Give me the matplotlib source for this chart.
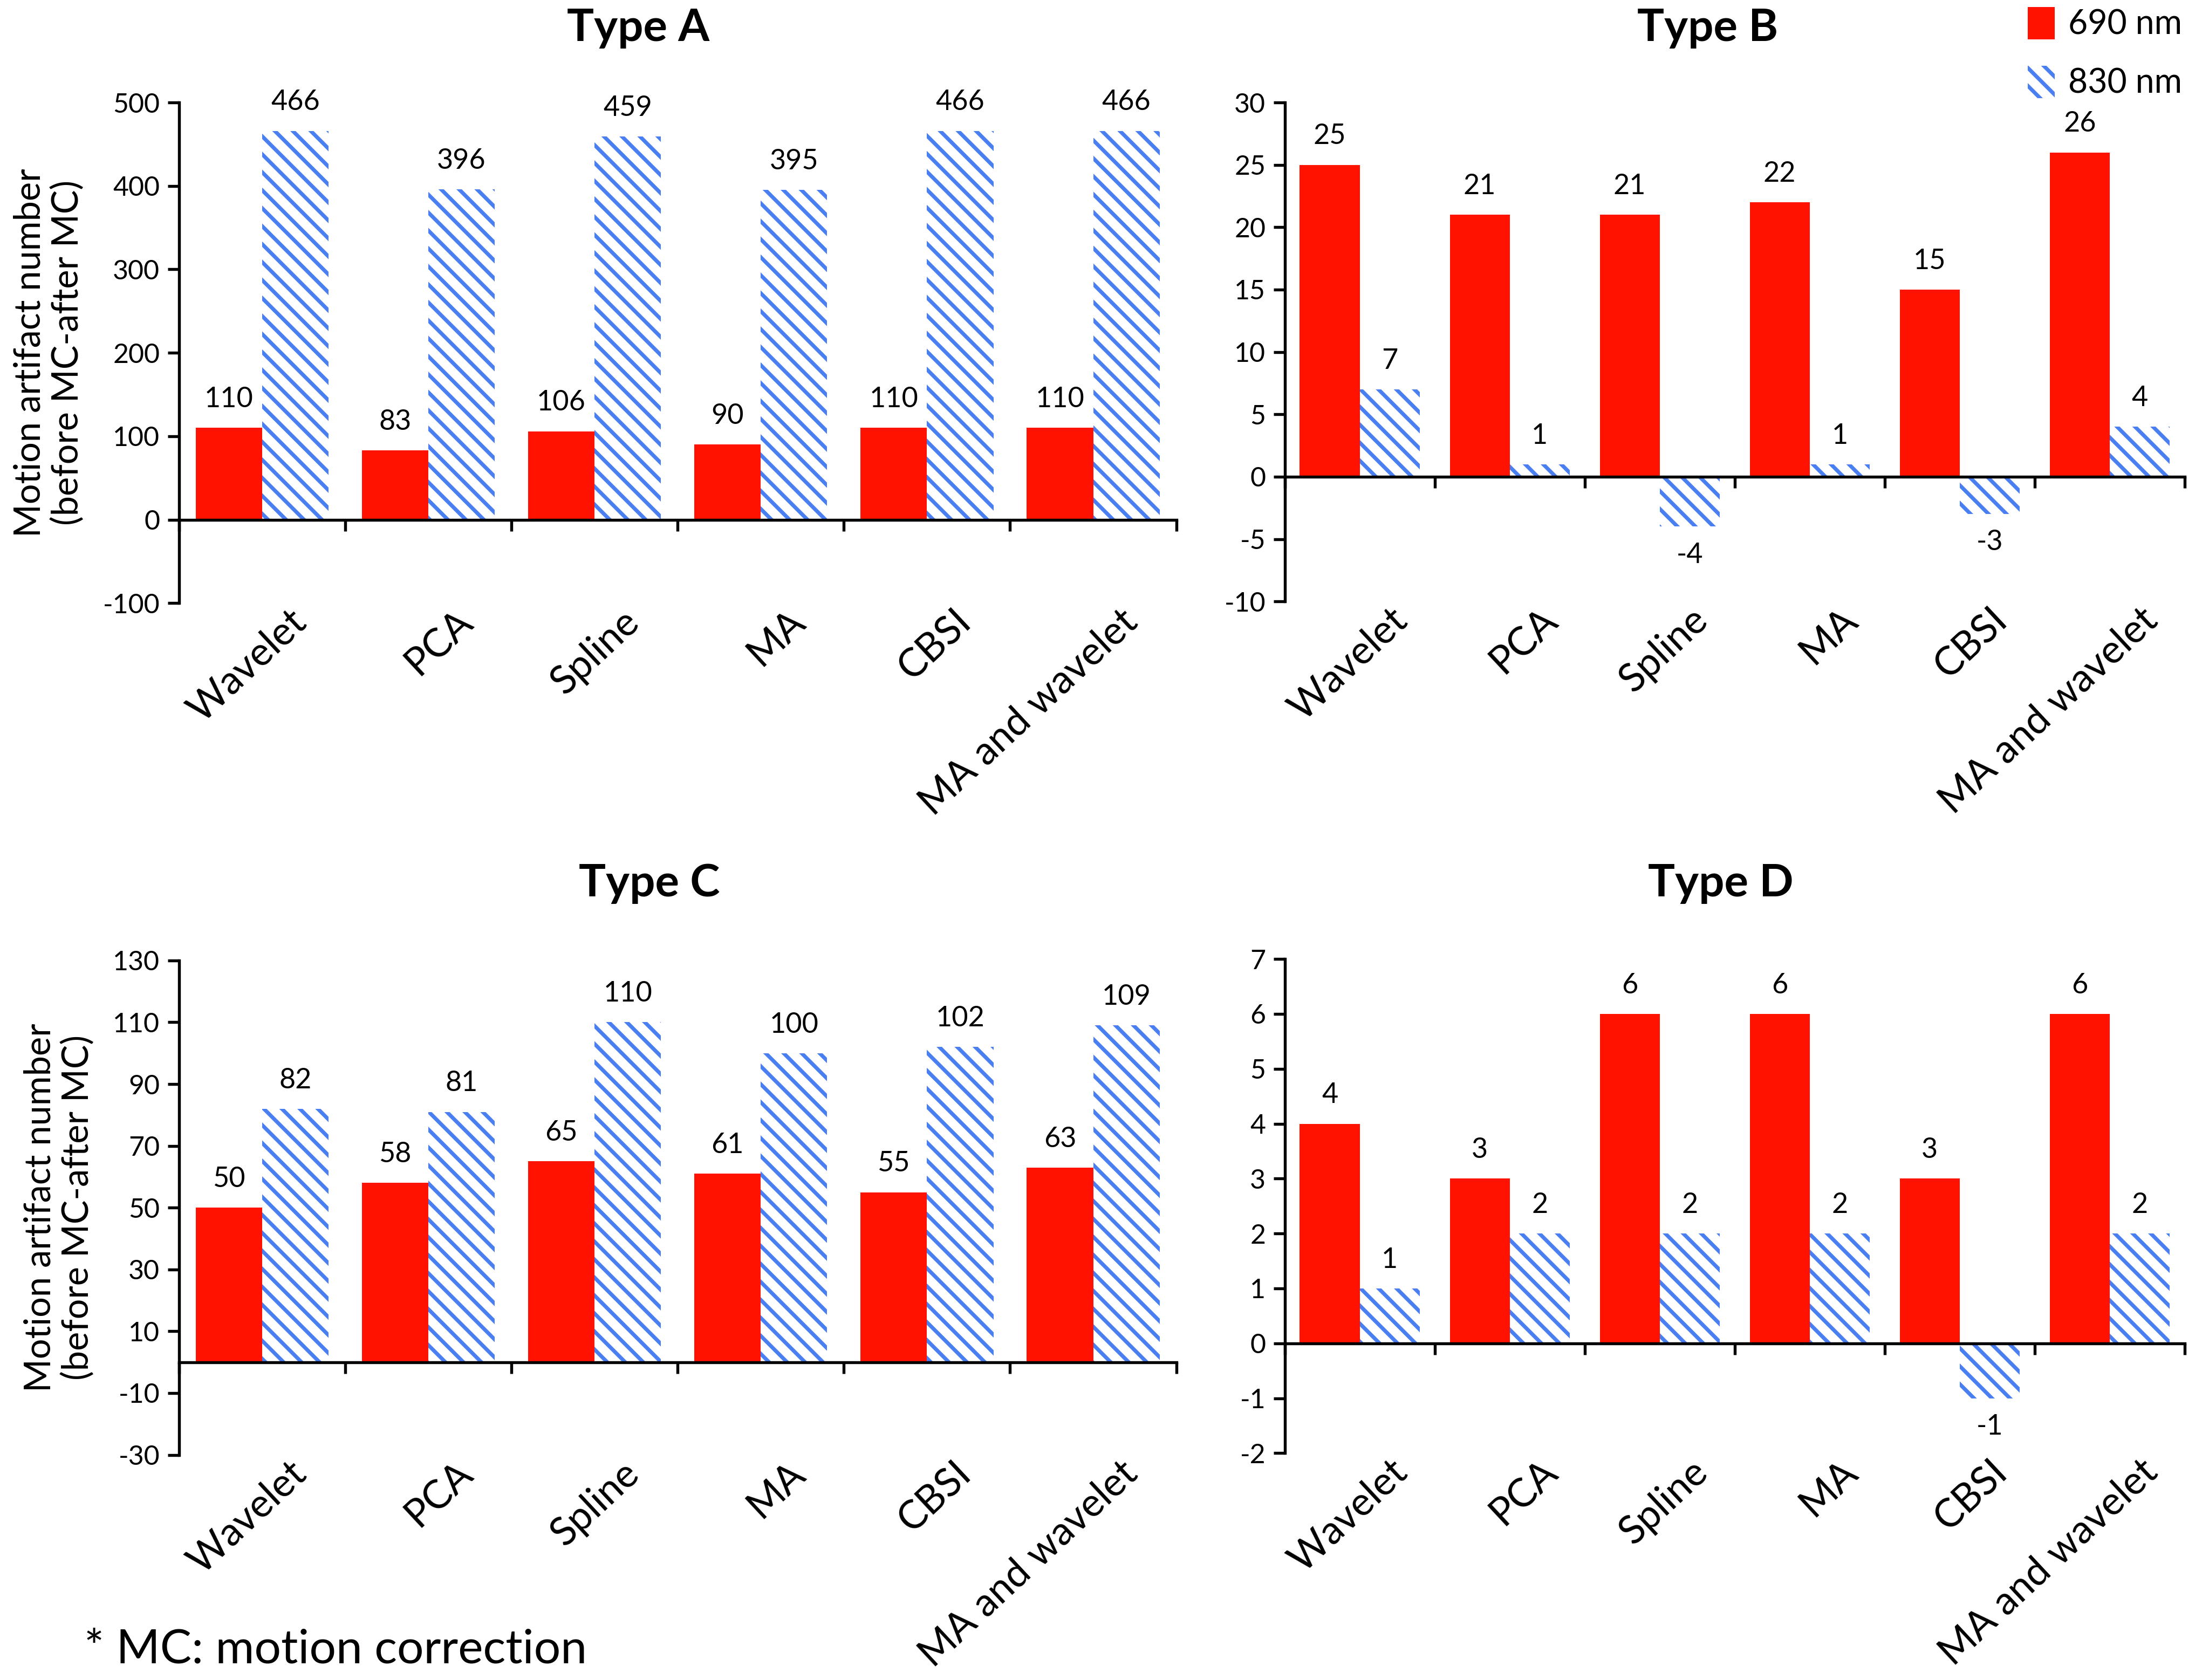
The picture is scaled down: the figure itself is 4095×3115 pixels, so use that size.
import numpy as np
import matplotlib
matplotlib.use("Agg")
import matplotlib.pyplot as plt
from matplotlib.patches import Patch
from matplotlib.transforms import blended_transform_factory

plt.rcParams['font.family'] = ['Lato', 'DejaVu Sans']
plt.rcParams['axes.unicode_minus'] = False
plt.rcParams['hatch.linewidth'] = 1.7

methods = ['Wavelet', 'PCA', 'Spline', 'MA', 'CBSI', 'MA and wavelet']

type_a_690 = [110, 83, 106, 90, 110, 110]
type_a_830 = [466, 396, 459, 395, 466, 466]
type_b_690 = [25, 21, 21, 22, 15, 26]
type_b_830 = [7, 1, -4, 1, -3, 4]
type_c_690 = [50, 58, 65, 61, 55, 63]
type_c_830 = [82, 81, 110, 100, 102, 109]
type_d_690 = [4, 3, 6, 6, 3, 6]
type_d_830 = [1, 2, 2, 2, -1, 2]

panel_titles = ['Type A', 'Type B', 'Type C', 'Type D']
ylims = [(-100, 500), (-10, 30), (-30, 130), (-2, 7)]
yticks = [np.arange(-100, 501, 100), np.arange(-10, 31, 5),
          np.arange(-30, 131, 20), np.arange(-2, 8, 1)]

RED = '#FF1200'
BLUE = '#4A7FF2'

fig = plt.figure(figsize=(4095 / 300, 3115 / 300), dpi=300)

# left, bottom, width, height in figure fractions
positions = [
    [0.081, 0.641, 0.4515, 0.298],
    [0.5816, 0.642, 0.4074, 0.297],
    [0.081, 0.134, 0.4515, 0.2943],
    [0.5816, 0.135, 0.4074, 0.2942],
]
title_xy = [(0.289, 0.983), (0.773, 0.983), (0.294, 0.474), (0.779, 0.474)]
label_dx = [0.16, 0.3, 0.16, 0.3]
data = [(type_a_690, type_a_830), (type_b_690, type_b_830),
        (type_c_690, type_c_830), (type_d_690, type_d_830)]


def draw_panel(ax, red_vals, blue_vals, ylim, ticks, with_ylabel, dx):
    x = np.arange(len(methods))
    w = 0.4
    ax.bar(x - w / 2, red_vals, w, color=RED, linewidth=0, zorder=2)
    ax.bar(x + w / 2, blue_vals, w, color='white', edgecolor=BLUE,
           hatch='\\\\\\', linewidth=0, zorder=2)

    for xs, vals in ((x - w / 2, red_vals), (x + w / 2, blue_vals)):
        for xi, v in zip(xs, vals):
            off = 7 if v >= 0 else -7
            ax.annotate(str(v), (xi, v), xytext=(0, off), textcoords='offset points',
                        ha='center', va='bottom' if v >= 0 else 'top', fontsize=12.5)

    ax.set_xlim(-0.5, len(methods) - 0.5)
    ax.set_ylim(*ylim)
    ax.set_yticks(ticks)
    ax.tick_params(axis='y', labelsize=12, length=5, width=1.3, direction='out')

    ax.spines['top'].set_visible(False)
    ax.spines['right'].set_visible(False)
    ax.spines['left'].set_linewidth(1.3)
    ax.spines['bottom'].set_position(('data', 0))
    ax.spines['bottom'].set_linewidth(1.3)
    ax.set_xticks(np.arange(-0.5, len(methods), 1.0))
    ax.set_xticklabels([])
    ax.tick_params(axis='x', length=5, width=1.3, direction='out')

    trans = blended_transform_factory(ax.transData, ax.transAxes)
    for i, m in enumerate(methods):
        ax.text(i + dx, 0.0, m, transform=trans, rotation=43,
                rotation_mode='anchor', ha='right', va='top', fontsize=17.5)

    if with_ylabel:
        ax.set_ylabel('Motion artifact number\n(before MC-after MC)',
                      fontsize=16, labelpad=8, linespacing=1.15)


for i, pos in enumerate(positions):
    ax = fig.add_axes(pos)
    draw_panel(ax, data[i][0], data[i][1], ylims[i], yticks[i], i % 2 == 0,
               label_dx[i] - 0.1 if i % 2 else label_dx[i])
    fig.text(title_xy[i][0], title_xy[i][1], panel_titles[i], fontsize=20,
             fontweight='bold', ha='center', va='center')

handles = [Patch(facecolor=RED, linewidth=0, label='690 nm'),
           Patch(facecolor='white', edgecolor=BLUE, hatch='\\\\\\',
                 linewidth=0, label='830 nm')]
fig.legend(handles=handles, loc='upper right', bbox_to_anchor=(0.997, 1.008),
           frameon=False, fontsize=15, handlelength=0.8, handleheight=1.1,
           handletextpad=0.4, labelspacing=0.75, borderpad=0.1)

fig.text(0.038, 0.01, '* MC: motion correction', fontsize=21)

fig.savefig('out.png', dpi=300)
